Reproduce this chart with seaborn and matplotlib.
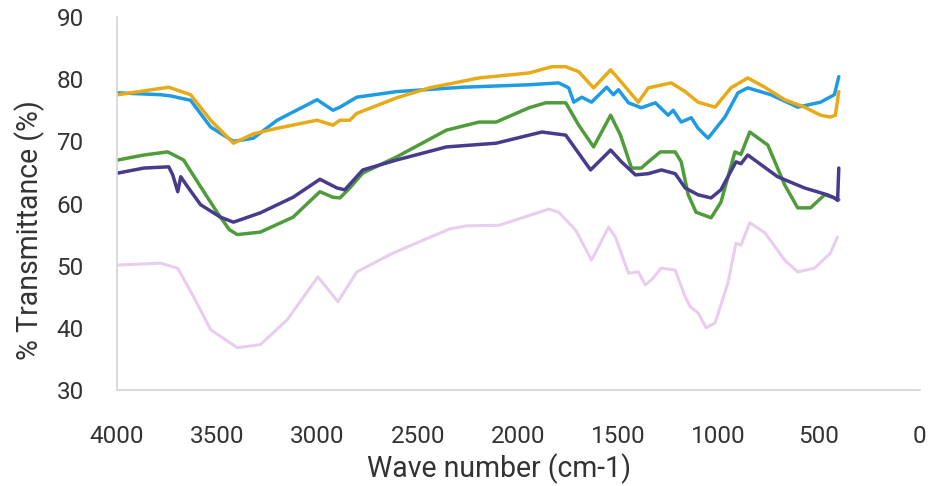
import matplotlib
matplotlib.use("Agg")
import matplotlib.pyplot as plt
from matplotlib import font_manager as fm
import seaborn as sns
import pandas as pd

# ---- data (wave number cm-1, % transmittance) ----
blue_wn = [3995, 3782, 3732, 3633, 3533, 3419, 3320, 3201, 3002, 2923, 2888, 2804, 2605, 2278,
           1945, 1797, 1747, 1722, 1682, 1633, 1558, 1524, 1499, 1449, 1385, 1315, 1251, 1226,
           1186, 1136, 1102, 1052, 968, 903, 854, 739, 605, 491, 422, 400]
blue_t = [77.8, 77.5, 77.3, 76.6, 72.3, 70.0, 70.5, 73.4, 76.7, 75.0, 75.5, 77.1, 78.0, 78.7,
          79.1, 79.4, 78.6, 76.3, 77.1, 76.3, 78.7, 77.5, 78.3, 76.2, 75.4, 76.2, 74.2, 75.0,
          73.1, 73.8, 72.1, 70.5, 73.9, 77.8, 78.6, 77.5, 75.5, 76.3, 77.5, 80.4]

orange_wn = [3995, 3742, 3633, 3533, 3419, 3320, 3201, 3002, 2923, 2888, 2839, 2804, 2605, 2442,
             2194, 1945, 1831, 1762, 1697, 1623, 1538, 1484, 1400, 1350, 1236, 1166, 1102, 1017,
             938, 854, 769, 670, 571, 491, 442, 417, 400]
orange_t = [77.5, 78.7, 77.5, 73.4, 69.7, 71.2, 72.1, 73.4, 72.6, 73.4, 73.4, 74.5, 77.0, 78.6,
            80.2, 81.0, 82.0, 82.0, 81.2, 78.6, 81.5, 79.5, 76.3, 78.6, 79.4, 78.0, 76.3, 75.5,
            78.6, 80.2, 78.7, 76.7, 75.5, 74.2, 73.9, 74.2, 78.0]

green_wn = [3995, 3866, 3747, 3668, 3583, 3499, 3440, 3400, 3285, 3122, 2988, 2923, 2888, 2839,
            2774, 2605, 2357, 2194, 2109, 1945, 1861, 1762, 1697, 1623, 1538, 1489, 1434, 1385,
            1350, 1290, 1216, 1186, 1151, 1112, 1037, 988, 918, 888, 844, 754, 670, 605, 541,
            471, 422, 400]
green_t = [67.0, 67.8, 68.3, 67.0, 62.7, 58.5, 55.8, 55.0, 55.4, 57.8, 61.9, 61.0, 60.9, 62.5,
           64.9, 67.5, 71.8, 73.1, 73.1, 75.4, 76.2, 76.2, 72.6, 69.1, 74.2, 71.0, 65.7, 65.7,
           66.7, 68.3, 68.3, 66.7, 61.4, 58.6, 57.7, 60.2, 68.3, 67.9, 71.5, 69.4, 63.0, 59.3,
           59.3, 61.4, 60.9, 60.6]

purple_wn = [3995, 3866, 3742, 3722, 3697, 3682, 3648, 3583, 3484, 3419, 3285, 3122, 2988, 2903,
             2864, 2774, 2605, 2357, 2109, 1881, 1762, 1638, 1538, 1484, 1414, 1350, 1285, 1216,
             1166, 1102, 1037, 988, 913, 888, 854, 705, 571, 457, 422, 406, 400]
purple_t = [64.9, 65.7, 65.9, 64.6, 61.9, 64.3, 62.7, 59.8, 57.8, 57.0, 58.5, 61.0, 63.9, 62.5,
            62.2, 65.4, 67.0, 69.1, 69.7, 71.5, 71.0, 65.4, 68.6, 66.7, 64.6, 64.8, 65.4, 64.8,
            62.5, 61.4, 60.9, 62.2, 66.7, 66.4, 67.8, 64.3, 62.5, 61.4, 60.9, 60.5, 65.7]

pink_wn = [3995, 3782, 3697, 3618, 3533, 3400, 3285, 3151, 2998, 2898, 2804, 2625, 2342, 2258,
           2094, 1846, 1797, 1712, 1633, 1548, 1514, 1449, 1400, 1365, 1335, 1285, 1216, 1166,
           1141, 1102, 1062, 1017, 953, 913, 888, 844, 769, 670, 605, 521, 442, 407]
pink_t = [50.1, 50.4, 49.6, 45.0, 39.7, 36.8, 37.3, 41.3, 48.2, 44.2, 49.0, 52.0, 55.9, 56.4,
          56.5, 59.1, 58.6, 55.7, 50.9, 56.2, 54.6, 48.8, 49.0, 46.9, 47.7, 49.6, 49.3, 45.0,
          43.4, 42.4, 40.0, 40.8, 47.2, 53.6, 53.3, 56.9, 55.3, 50.9, 49.0, 49.6, 52.0, 54.6]

x_ticks = [4000, 3500, 3000, 2500, 2000, 1500, 1000, 500, 0]
y_ticks = [30, 40, 50, 60, 70, 80, 90]
x_title = "Wave number (cm-1)"
y_title = "% Transmittance (%)"

series = {
    "pink": (pink_wn, pink_t),
    "green": (green_wn, green_t),
    "purple": (purple_wn, purple_t),
    "blue": (blue_wn, blue_t),
    "orange": (orange_wn, orange_t),
}
frames = []
for name, (wn, t) in series.items():
    frames.append(pd.DataFrame({"wn": wn, "T": t, "sample": name}))
df = pd.concat(frames, ignore_index=True)

palette = {"pink": "#E9CDEE", "green": "#4F9C3B", "purple": "#473B8E",
           "blue": "#1E9BE2", "orange": "#E9AA17"}

sns.set_style("white")
plt.rcParams["font.family"] = ["Roboto", "DejaVu Sans"]
fp = fm.FontProperties(family=["Roboto", "DejaVu Sans"])

fig = plt.figure(figsize=(9.35, 4.86), dpi=100)
ax = fig.add_axes([117 / 935, 1 - 390 / 486, (920 - 117) / 935, (390 - 17) / 486])

sns.lineplot(data=df, x="wn", y="T", hue="sample", hue_order=list(series.keys()),
             palette=palette, sort=False, estimator=None,
             legend=False, linewidth=2.5, ax=ax)
for line in ax.lines:
    if line.get_color().lower() == palette["pink"].lower():
        line.set_linewidth(2.2)
    line.set_solid_joinstyle("round")
    line.set_solid_capstyle("round")

ax.set_xlim(4000, -5)
ax.set_ylim(30, 90)
ax.set_xticks(x_ticks)
ax.set_yticks(y_ticks)


def fitted_size(text, target_px, base=20):
    t = fig.text(0, 0, text, fontproperties=fp, fontsize=base)
    fig.canvas.draw()
    w = t.get_window_extent().width
    t.remove()
    return base * target_px / w


title_size = min(fitted_size(x_title, 264), 26)
tick_size = 17.5

ax.set_xticklabels([str(v) for v in x_ticks], fontsize=tick_size, color="#333333")
ax.set_yticklabels([str(v) for v in y_ticks], fontsize=tick_size, color="#333333")
ax.tick_params(axis="both", length=0)
ax.tick_params(axis="x", pad=25)
ax.tick_params(axis="y", pad=24)

for side in ["top", "right"]:
    ax.spines[side].set_visible(False)
for side in ["left", "bottom"]:
    ax.spines[side].set_color("#D2D4DC")
    ax.spines[side].set_linewidth(1.2)

ax.set_xlabel(x_title, fontsize=title_size, color="#333333")
ax.set_ylabel(y_title, fontsize=title_size, color="#333333")
ax.xaxis.label.set_va("center")
ax.yaxis.label.set_va("center")
ax.xaxis.set_label_coords(0.476, -(469 - 390) / 373)
ax.yaxis.set_label_coords((30 - 117) / 803, (390 - 230) / 373)
ax.grid(False)

fig.savefig("out.png", dpi=100, facecolor="white")
